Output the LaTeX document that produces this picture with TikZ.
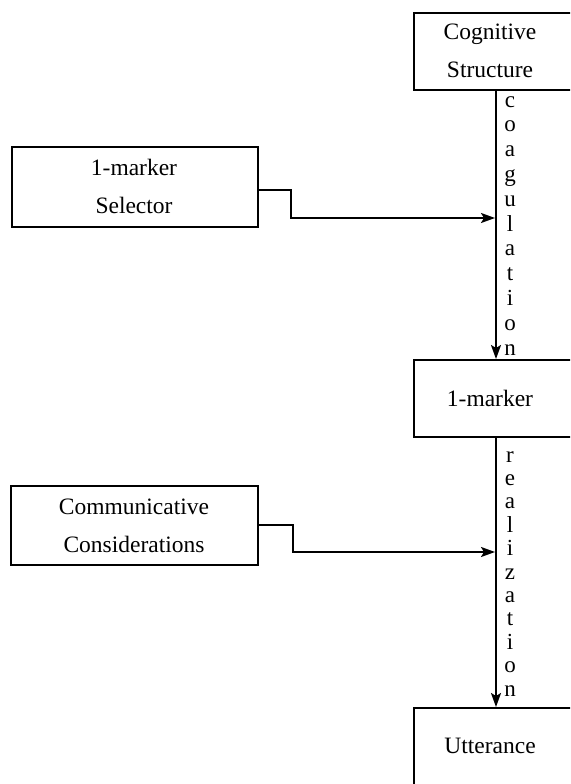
\documentclass[tikz,border=0pt]{standalone}
\usepackage{fontspec}
\setmainfont{Liberation Serif}
\usetikzlibrary{arrows.meta}
\begin{document}
\begin{tikzpicture}[x=1pt,y=-1pt,
  box/.style={draw,line width=2pt,minimum width=#1,anchor=north west,inner sep=0pt},
  lbl/.style={font=\fontsize{23.5}{38}\selectfont,align=center},
  ltr/.style={font=\fontsize{23}{24}\selectfont,inner sep=0pt},
  arr/.style={line width=2pt,-{Stealth[length=14pt,width=10pt,inset=3pt]}}]
\useasboundingbox (0,0) rectangle (570,784);
\clip (0,0) rectangle (570,784);
% right column boxes
\node[box=190,minimum height=77] (cog) at (413,12) {};
\node[lbl] (cogt) at (490,51) {Cognitive\\Structure};
\node[box=190,minimum height=77] (mk) at (413,359) {};
\node[lbl] (mkt) at (490,398) {1-marker};
\node[box=190,minimum height=100] (utt) at (413,707) {};
\node[lbl] (uttt) at (490,746) {Utterance};
% left boxes
\node[box=246,minimum height=80] (sel) at (11,146) {};
\node[lbl] (selt) at (134,186) {1-marker\\Selector};
\node[box=247,minimum height=79] (com) at (10,485) {};
\node[lbl] (comt) at (134,526) {Communicative\\Considerations};
% main vertical arrows
\coordinate (colx) at (496,0);
\draw[arr] (cog.south -| colx) -- (mk.north -| colx);
\draw[arr] (mk.south -| colx) -- (utt.north -| colx);
% side connectors
\coordinate (s1) at (291,190);
\coordinate (e1) at (495,218);
\draw[arr] (sel.east |- s1) -- (s1) -- (s1 |- e1) -- (e1);
\coordinate (s2) at (293,525);
\coordinate (e2) at (495,552);
\draw[arr] (com.east |- s2) -- (s2) -- (s2 |- e2) -- (e2);
% vertical letter labels
\foreach \c [count=\i from 0] in {c,o,a,g,u,l,a,t,i,o,n}
  \node[ltr,anchor=base] (cl\i) at (510,107+24.8*\i) {\c};
\foreach \c [count=\i from 0] in {r,e,a,l,i,z,a,t,i,o,n}
  \node[ltr,anchor=base] (rl\i) at (510,462+23.4*\i) {\c};
\end{tikzpicture}
\end{document}
